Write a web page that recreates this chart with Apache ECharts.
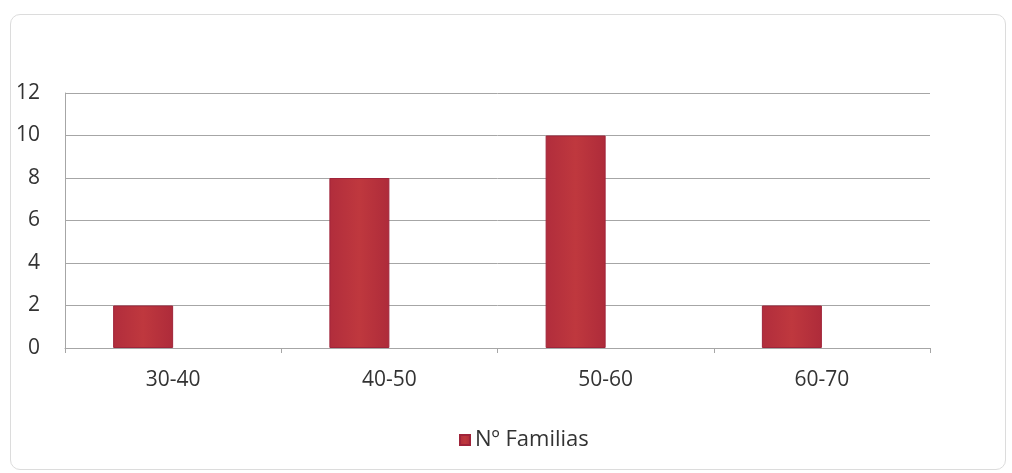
<!DOCTYPE html>
<html><head><meta charset="utf-8">
<script src="https://cdn.jsdelivr.net/npm/echarts@6/dist/echarts.min.js"></script>
<style>html,body{margin:0;padding:0;background:#fff;}#frame{position:absolute;left:10px;top:14px;width:994px;height:454px;border:1px solid #dcdcdc;border-radius:10px;}#c{position:absolute;left:0;top:0;width:1012px;height:473px;}</style>
</head><body><div id="frame"></div><div id="c"></div>
<script>
const categories = ['30-40','40-50','50-60','60-70'];
const familias = [2, 8, 10, 2];
const yTicks = [0, 2, 4, 6, 8, 10, 12];
const chart = echarts.init(document.getElementById('c'));
const txt = {fontFamily:'Open Sans',fontSize:21,color:'#333333'};
chart.setOption({
  animation:false,
  grid:{left:65,right:82,top:93,bottom:125},
  legend:{data:['Nº Familias'],top:424,left:454,itemWidth:10,itemHeight:10,itemGap:7,icon:'rect',textStyle:Object.assign({},txt,{fontSize:22})},
  xAxis:{type:'category',data:categories,axisLine:{lineStyle:{color:'#a6a6a6'}},axisTick:{show:true,length:5,lineStyle:{color:'#a6a6a6'}},axisLabel:Object.assign({},txt,{margin:22})},
  yAxis:{type:'value',min:yTicks[0],max:yTicks[yTicks.length-1],interval:2,axisLine:{show:true,lineStyle:{color:'#a6a6a6'}},axisTick:{show:false},splitLine:{lineStyle:{color:'#a6a6a6'}},axisLabel:Object.assign({},txt,{margin:25})},
  series:[
    {name:'Nº Familias',type:'bar',data:familias,barWidth:60,barGap:'0%',itemStyle:{color:new echarts.graphic.LinearGradient(0,0,1,0,[{offset:0,color:'#b12d3c'},{offset:0.5,color:'#bf383e'},{offset:1,color:'#ae2b3a'}]),borderColor:'#a0243a',borderWidth:1}},
    {name:'blank',type:'bar',data:categories.map(()=>null),barWidth:60}
  ]
});
</script></body></html>
